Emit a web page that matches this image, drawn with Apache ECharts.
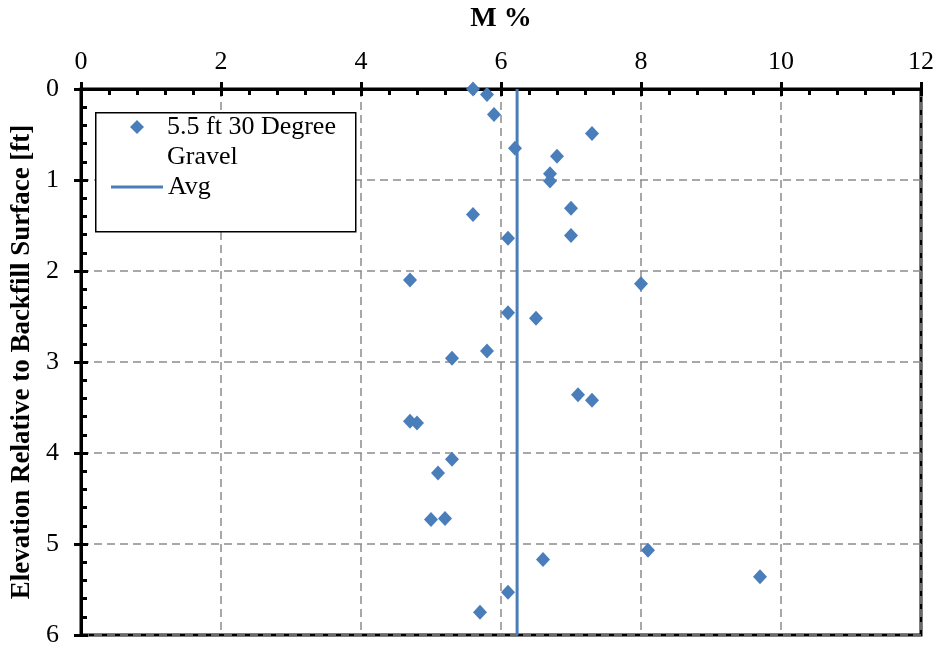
<!DOCTYPE html>
<html>
<head>
<meta charset="utf-8">
<script src="https://cdn.jsdelivr.net/npm/echarts@6/dist/echarts.min.js"></script>
<style>html,body{margin:0;padding:0;background:#fff}#c{width:937px;height:648px}</style>
</head>
<body>
<div id="c"></div>
<script>
const mValues = [5.6,5.8,5.9,7.3,6.2,6.8,6.7,6.7,7.0,5.6,7.0,6.1,4.7,8.0,6.1,6.5,5.8,5.3,7.1,7.3,4.7,4.8,5.3,5.1,5.0,5.2,8.1,6.6,9.7,6.1,5.7];
const elevations = [0.0,0.06,0.28,0.49,0.65,0.74,0.93,1.01,1.31,1.38,1.61,1.64,2.10,2.14,2.46,2.52,2.88,2.96,3.36,3.42,3.65,3.67,4.07,4.22,4.73,4.72,5.07,5.17,5.36,5.53,5.75];
const avgValue = 6.23;
const avgRange = [0, 6];
const seriesName = '5.5 ft 30 Degree\nGravel';
const avgName = 'Avg';

const FONT = '"Liberation Serif", "Times New Roman", serif';
const BLUE = '#4a7ebb';
const chart = echarts.init(document.getElementById('c'), null, {renderer: 'canvas'});
const grid = {left: 81, right: 16, top: 88, bottom: 12, show: true, borderColor: '#000', borderWidth: 3, backgroundColor: 'transparent', containLabel: false};
const splitDash = {show: true, lineStyle: {color: '#8c8c8c', width: 1.5, type: [8, 5]}};
chart.setOption({
  animation: false,
  grid: grid,
  xAxis: [{
    type: 'value', position: 'top', min: 0, max: 12, interval: 2,
    name: 'M %', nameLocation: 'middle', nameGap: 56,
    nameTextStyle: {fontFamily: FONT, fontSize: 28, fontWeight: 'bold', color: '#000'},
    axisLine: {show: true, lineStyle: {color: '#000', width: 3}},
    axisTick: {show: true, inside: false, length: 7, lineStyle: {color: '#000', width: 3}},
    axisLabel: {fontFamily: FONT, fontSize: 26, color: '#000', margin: 14},
    splitLine: splitDash
  }, {
    type: 'value', position: 'top', min: 0, max: 12, interval: 2,
    axisLine: {show: false},
    axisTick: {show: true, inside: true, length: 7, lineStyle: {color: '#000', width: 3}},
    minorTick: {show: true, splitNumber: 5, length: 6, lineStyle: {color: '#000', width: 3}},
    axisLabel: {show: false}, splitLine: {show: false}
  }],
  yAxis: [{
    type: 'value', inverse: true, min: 0, max: 6, interval: 1,
    name: 'Elevation Relative to Backfill Surface [ft]', nameLocation: 'middle', nameGap: 44,
    nameTextStyle: {fontFamily: FONT, fontSize: 27, fontWeight: 'bold', color: '#000'},
    axisLine: {show: true, lineStyle: {color: '#000', width: 3}},
    axisTick: {show: true, inside: false, length: 7, lineStyle: {color: '#000', width: 3}},
    axisLabel: {fontFamily: FONT, fontSize: 26, color: '#000', margin: 22},
    splitLine: splitDash
  }, {
    type: 'value', inverse: true, min: 0, max: 6, interval: 1, position: 'left',
    axisLine: {show: false},
    axisTick: {show: true, inside: true, length: 7, lineStyle: {color: '#000', width: 3}},
    minorTick: {show: true, splitNumber: 5, length: 6, lineStyle: {color: '#000', width: 3}},
    axisLabel: {show: false}, splitLine: {show: false}
  }],
  graphic: [{
    type: 'rect', left: 95, top: 112, z: 50,
    shape: {width: 260, height: 119},
    style: {fill: '#fff', stroke: '#000', lineWidth: 1.5}
  }],
  legend: [{
    data: [{name: seriesName, icon: 'path://M7,0L14,7L7,14L0,7ZM7,44L7,44'}], left: 130, top: 112, padding: 0, z: 60,
    itemWidth: 14, itemHeight: 44, itemGap: 0,
    textStyle: {fontFamily: FONT, fontSize: 26, color: '#000', lineHeight: 30, padding: [0, 0, 0, 18]}
  }, {
    data: [{name: avgName, icon: 'rect'}], left: 111, top: 172, padding: 0, z: 60,
    itemWidth: 52, itemHeight: 3,
    textStyle: {fontFamily: FONT, fontSize: 26, color: '#000', lineHeight: 30}
  }],
  series: [{
    name: seriesName, type: 'scatter', xAxisIndex: 0, yAxisIndex: 0,
    symbol: 'diamond', symbolSize: [14, 15],
    itemStyle: {color: BLUE, opacity: 1},
    data: mValues.map((v, i) => [v, elevations[i]]),
    z: 5
  }, {
    name: avgName, type: 'line', xAxisIndex: 0, yAxisIndex: 0,
    symbol: 'none', lineStyle: {color: BLUE, width: 3}, itemStyle: {color: BLUE},
    data: avgRange.map(e => [avgValue, e]),
    z: 4
  }]
});
</script>
</body>
</html>
